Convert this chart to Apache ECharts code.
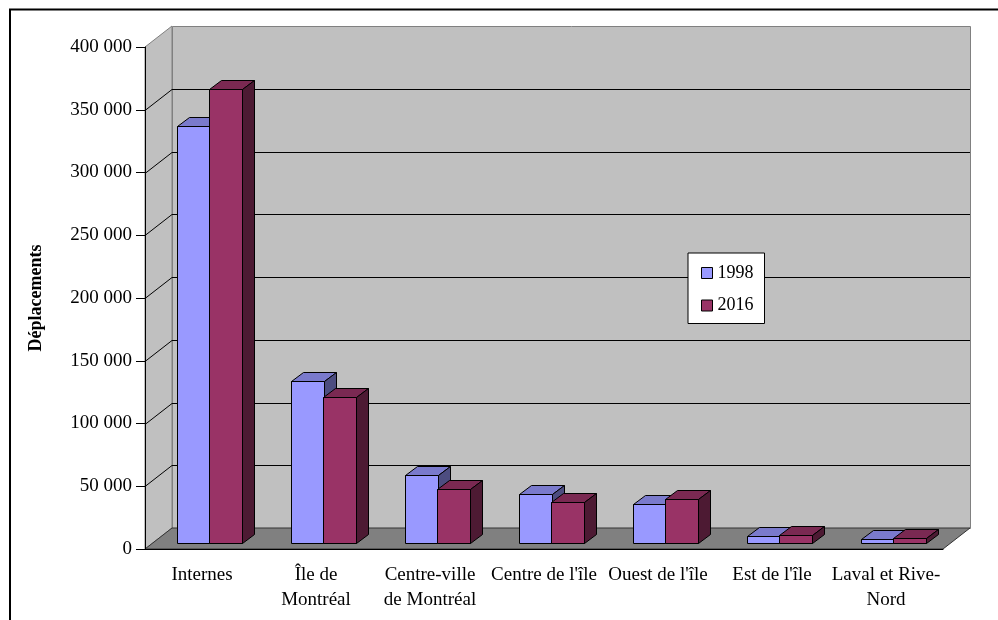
<!DOCTYPE html>
<html>
<head>
<meta charset="utf-8">
<script src="https://cdn.jsdelivr.net/npm/echarts@6/dist/echarts.min.js"></script>
<style>
html, body { margin: 0; padding: 0; background: #fff; }
#main { width: 998px; height: 620px; }
</style>
</head>
<body>
<div id="main"></div>
<script>
var categories = ["Internes", "Île de\nMontréal", "Centre-ville\nde Montréal", "Centre de l'île", "Ouest de l'île", "Est de l'île", "Laval et Rive-\nNord"];
var years = ["1998", "2016"];
var trips1998 = [332000, 128800, 53500, 38600, 30300, 5500, 3000];
var trips2016 = [361000, 116000, 42300, 32500, 34900, 5600, 3700];
var yTicks = [0, 50000, 100000, 150000, 200000, 250000, 300000, 350000, 400000];

// fake 3d: wall depth and bar depth (pixels)
var DX = 27, DY = -21;
var SX = 7, SY = -6.5;
var BX = 12, BY = -9;
var FONT = "Liberation Serif";

var faces = [
  { front: "#9999ff", top: "#7a7acc", side: "#4d4d80" },
  { front: "#993366", top: "#7a2952", side: "#4d1a33" }
];

function fmt(v) {
  return String(v).replace(/\B(?=(\d{3})+(?!\d))/g, " ");
}

function renderWalls(params, api) {
  var cs = params.coordSys;
  var x0 = cs.x, y0 = cs.y, x1 = cs.x + cs.width, y1 = cs.y + cs.height;
  var children = [
    // left wall
    { type: "polygon", shape: { points: [[x0, y0], [x0 + DX, y0 + DY], [x0 + DX, y1 + DY], [x0, y1]] },
      style: { fill: "#c0c0c0", stroke: "#808080", lineWidth: 1 } },
    // back wall
    { type: "rect", shape: { x: x0 + DX + 0.5, y: y0 + DY + 0.5, width: cs.width, height: cs.height },
      style: { fill: "#c0c0c0", stroke: "#808080", lineWidth: 1 } },
    // floor
    { type: "polygon", shape: { points: [[x0, y1], [x1, y1], [x1 + DX, y1 + DY], [x0 + DX, y1 + DY]] },
      style: { fill: "#808080", stroke: "#333", lineWidth: 1 } }
  ];
  for (var i = 1; i < yTicks.length - 1; i++) {
    var y = Math.round(api.coord([0, yTicks[i]])[1]) + 0.5;
    children.push({
      type: "polyline",
      shape: { points: [[x0, y], [x0 + DX, y + DY], [x1 + DX, y + DY]] },
      style: { stroke: "#000", lineWidth: 1, fill: null }
    });
  }
  return { type: "group", children: children };
}

function barRenderer(slot) {
  var f = faces[slot];
  return function (params, api) {
    var cat = api.value(0), val = api.value(1);
    var top = api.coord([cat, val]);
    var base = api.coord([cat, 0]);
    var bw = api.size([1, 0])[0] * 0.285;
    var left = Math.round(base[0] - bw + slot * bw + SX) + 0.5;
    var right = Math.round(left + bw);
    right = right + 0.5;
    var yb = Math.round(base[1] + SY) + 0.5;
    var yt = Math.round(top[1] + SY) + 0.5;
    var ln = { stroke: "#000", lineWidth: 1 };
    return {
      type: "group",
      children: [
        { type: "polygon", shape: { points: [[left, yt], [right, yt], [right, yb], [left, yb]] },
          style: { fill: f.front, stroke: ln.stroke, lineWidth: 1 } },
        { type: "polygon", shape: { points: [[left, yt], [right, yt], [right + BX, yt + BY], [left + BX, yt + BY]] },
          style: { fill: f.top, stroke: ln.stroke, lineWidth: 1 } },
        { type: "polygon", shape: { points: [[right, yt], [right + BX, yt + BY], [right + BX, yb + BY], [right, yb]] },
          style: { fill: f.side, stroke: ln.stroke, lineWidth: 1 } }
      ]
    };
  };
}

var chart = echarts.init(document.getElementById("main"));

var option = {
  backgroundColor: "#fff",
  animation: false,
  textStyle: { fontFamily: FONT },
  grid: { left: 145, top: 47, width: 798, height: 502 },
  graphic: [{
    type: "rect",
    shape: { x: 10, y: 9.5, width: 1000, height: 700 },
    style: { fill: null, stroke: "#000", lineWidth: 2 },
    z: 10
  }],
  legend: {
    data: years,
    orient: "vertical",
    left: 688,
    top: 253,
    padding: [10, 11, 8, 13],
    itemGap: 12.5,
    itemWidth: 11,
    itemHeight: 11,
    icon: "rect",
    itemStyle: { borderColor: "#000", borderWidth: 1 },
    backgroundColor: "#fff",
    borderColor: "#000",
    borderWidth: 1,
    textStyle: { fontFamily: FONT, fontSize: 18, color: "#000", lineHeight: 20 },
    selectedMode: false
  },
  xAxis: {
    type: "category",
    data: categories,
    z: 5,
    axisLine: { lineStyle: { color: "#000", width: 1 } },
    axisTick: { length: 8, lineStyle: { color: "#000" } },
    axisLabel: { interval: 0, margin: 14, fontFamily: FONT, fontSize: 19, lineHeight: 25, color: "#000" },
    splitLine: { show: false }
  },
  yAxis: {
    type: "value",
    min: yTicks[0],
    max: yTicks[yTicks.length - 1],
    interval: yTicks[1] - yTicks[0],
    z: 5,
    name: "Déplacements",
    nameLocation: "middle",
    nameGap: 100,
    nameRotate: 90,
    nameTextStyle: { fontFamily: FONT, fontSize: 18, fontWeight: "bold", color: "#000" },
    axisLine: { show: true, lineStyle: { color: "#000", width: 1 } },
    axisTick: { show: true, length: 9, lineStyle: { color: "#000" } },
    axisLabel: { margin: 13, fontFamily: FONT, fontSize: 19, color: "#000", formatter: fmt },
    splitLine: { show: false }
  },
  series: [
    {
      name: "walls",
      type: "custom",
      renderItem: renderWalls,
      data: [[0, 0]],
      z: 1,
      silent: true
    },
    {
      name: years[0],
      type: "custom",
      renderItem: barRenderer(0),
      itemStyle: { color: faces[0].front },
      data: trips1998.map(function (v, i) { return [i, v]; }),
      z: 3
    },
    {
      name: years[1],
      type: "custom",
      renderItem: barRenderer(1),
      itemStyle: { color: faces[1].front },
      data: trips2016.map(function (v, i) { return [i, v]; }),
      z: 3
    }
  ]
};

chart.setOption(option);
</script>
</body>
</html>
